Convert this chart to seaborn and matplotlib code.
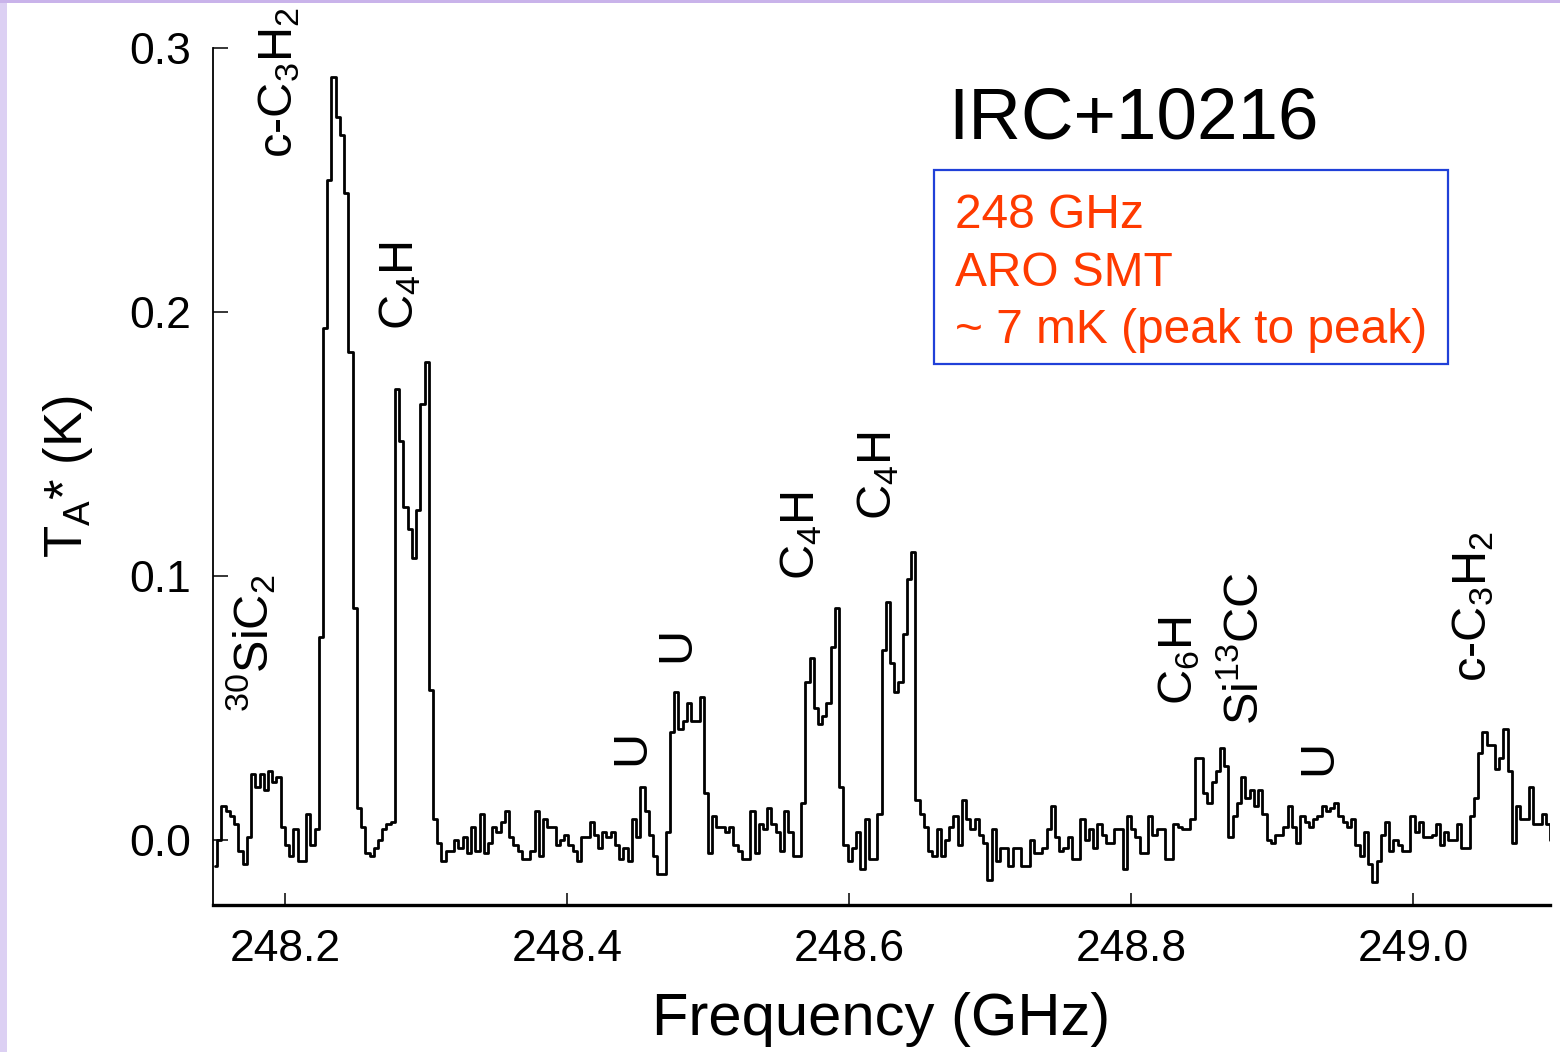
import numpy as np
import pandas as pd
import seaborn as sns
import matplotlib
matplotlib.use("Agg")
import matplotlib.pyplot as plt
from matplotlib.patches import Rectangle

# Spectrum grid: channel centres start at FREQ_START and are CHANNEL_WIDTH apart (GHz)
FREQ_START = 248.1505
CHANNEL_WIDTH = 0.003

# Antenna temperature per channel, in mK
ta_mK = [
    -10, 0, 13, 11, 9, 6, -4, -9, 1, 25,
    20, 25, 19, 26, 22, 24, 5, -2, -6, 4,
    -8, -8, 10, -2, 4, 77, 194, 250, 289, 274,
    267, 245, 185, 88, 12, 5, -5, -6, -3, 0,
    4, 6, 7, 171, 151, 126, 118, 107, 125, 165,
    181, 57, 8, -1, -8, -4, -4, 0, -3, 1,
    -5, 5, -4, 10, -5, -1, 5, 3, 7, 11,
    1, -2, -4, -7, -7, -4, 11, -6, 8, 5,
    5, -2, 0, 2, -2, -4, -8, 1, 1, 7,
    2, -3, 3, 1, 3, -2, -7, -3, -8, 8,
    1, 20, 11, 2, -6, -13, -13, 3, 41, 56,
    42, 45, 52, 45, 45, 54, 18, -5, 9, 5,
    5, 3, 5, -2, -4, -7, -7, 11, -5, 6,
    4, 12, 6, 3, -4, 11, 3, -6, -6, 14,
    60, 69, 50, 44, 47, 52, 73, 88, 20, -2,
    -8, -3, 3, -11, 8, -7, -7, 10, 72, 90,
    67, 56, 60, 78, 99, 109, 15, 10, 5, -4,
    -6, 4, -6, 0, 5, 9, -2, 15, 8, 4,
    8, 2, -1, -15, 4, -8, -3, -3, -10, -3,
    -3, -10, -10, 0, -5, -5, -3, 4, 13, 1,
    -4, -3, 1, -7, -7, 8, 0, 4, -3, 6,
    2, -1, -1, 4, 4, -11, 9, 4, 1, -5,
    -5, 9, 2, 4, 4, -7, -7, 6, 5, 4,
    4, 8, 31, 31, 18, 14, 22, 26, 35, 28,
    1, 9, 14, 24, 16, 19, 13, 19, 10, 0,
    -1, 2, 2, 5, 13, 5, -1, 9, 7, 5,
    8, 9, 13, 11, 12, 14, 9, 7, 5, 8,
    -2, -6, 3, -9, -16, -8, 2, 7, -4, 0,
    -2, -4, -4, 9, 3, 7, 1, 1, 2, 6,
    -2, 3, 0, 0, 6, -3, -3, 9, 16, 33,
    41, 36, 36, 27, 31, 42, 26, -1, 13, 8,
    8, 20, 6, 6, 10, 6, 0, 10,
]

# Line identifications: label, frequency (GHz), temperature (K) of label's lower-left corner
line_labels = [r"$^{30}$SiC$_2$", r"c-C$_3$H$_2$", r"C$_4$H", "U", "U", r"C$_4$H",
               r"C$_4$H", r"C$_6$H", r"Si$^{13}$CC", "U", r"c-C$_3$H$_2$"]
label_freq = [248.1570, 248.1800, 248.2655, 248.4300, 248.4620, 248.5500,
              248.6045, 248.8180, 248.8645, 248.9170, 249.0265]
label_temp = [0.0485, 0.2583, 0.1932, 0.0284, 0.0674, 0.0985,
              0.1212, 0.0511, 0.0436, 0.0246, 0.0598]

x_ticks = [248.2, 248.4, 248.6, 248.8, 249.0]
x_tick_labels = ["248.2", "248.4", "248.6", "248.8", "249.0"]
y_ticks = [0.0, 0.1, 0.2, 0.3]
y_tick_labels = ["0.0", "0.1", "0.2", "0.3"]

source_name = "IRC+10216"
info_lines = ["248 GHz", "ARO SMT", "~ 7 mK (peak to peak)"]

sns.set_style("white")
plt.rcParams["font.family"] = ["Liberation Sans", "DejaVu Sans"]
plt.rcParams["mathtext.fontset"] = "custom"
plt.rcParams["mathtext.rm"] = "Liberation Sans"
plt.rcParams["mathtext.it"] = "Liberation Sans"
plt.rcParams["mathtext.default"] = "regular"

freq = FREQ_START + CHANNEL_WIDTH * np.arange(len(ta_mK))
spec = pd.DataFrame({"freq": freq, "ta": np.array(ta_mK) / 1000.0})

fig = plt.figure(figsize=(15.6, 10.52), dpi=100)
fig.patch.set_facecolor("white")

# lavender slide edges
fig.patches.append(Rectangle((0, 0), 7 / 1560, 1, transform=fig.transFigure,
                             facecolor="#dcd0f3", edgecolor="none", zorder=0))
fig.patches.append(Rectangle((0, 1 - 3 / 1052), 1, 3 / 1052, transform=fig.transFigure,
                             facecolor="#c9b3ea", edgecolor="none", zorder=0))

ax = fig.add_axes([0.13654, 0.13973, 0.85705, 0.81464])
ax.set_facecolor("white")

sns.lineplot(data=spec, x="freq", y="ta", drawstyle="steps-mid", color="black",
             linewidth=2.0, estimator=None, sort=False, ax=ax)

ax.set_xlim(248.149, 249.097)
ax.set_ylim(-0.0246, 0.3)

ax.set_xticks(x_ticks)
ax.set_xticklabels(x_tick_labels)
ax.set_yticks(y_ticks)
ax.set_yticklabels(y_tick_labels)
ax.tick_params(axis="x", direction="in", length=9, width=1.1, labelsize=32, pad=17,
               bottom=True, colors="black")
ax.tick_params(axis="y", direction="in", length=10.5, width=1.1, labelsize=32, pad=16,
               left=True, colors="black")

sns.despine(ax=ax)
ax.spines["left"].set_linewidth(1.3)
ax.spines["bottom"].set_linewidth(2.4)
ax.spines["left"].set_color("black")
ax.spines["bottom"].set_color("black")

ax.set_xlabel("Frequency (GHz)", fontsize=43, labelpad=16, color="black")
ax.set_ylabel(r"T$_A$* (K)", fontsize=38, color="black")
ax.yaxis.set_label_coords(-0.088, 0.5)

for lab, fx, ty in zip(line_labels, label_freq, label_temp):
    ax.text(fx, ty, lab, rotation=90, ha="left", va="bottom", fontsize=35,
            color="black", clip_on=False)

fig.text(948 / 1560, 1 - 138 / 1052, source_name, fontsize=52.5, color="black",
         ha="left", va="baseline")

fig.patches.append(Rectangle((934 / 1560, 1 - 364 / 1052), 514 / 1560, 194 / 1052,
                             transform=fig.transFigure, facecolor="white",
                             edgecolor="#2040d8", linewidth=1.6, zorder=1))
for txt, yb in zip(info_lines, [228, 286, 343]):
    fig.text(955 / 1560, 1 - yb / 1052, txt, fontsize=34.5, color="#ff3a00",
             ha="left", va="baseline", zorder=2)

fig.savefig("out.png", dpi=100, facecolor="white")
